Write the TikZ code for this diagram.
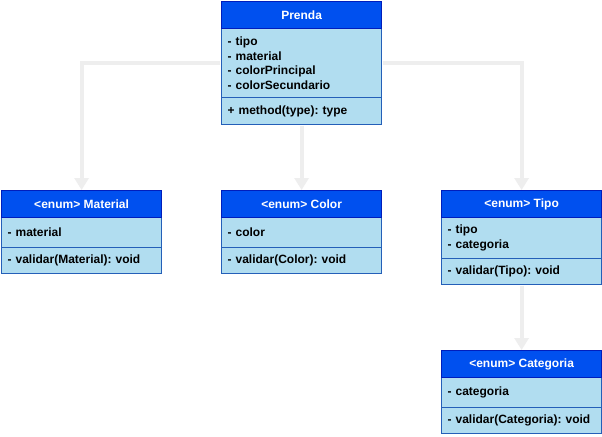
\documentclass[tikz,border=0pt]{standalone}
\usepackage{fontspec}
\setmainfont{Liberation Sans}
\usetikzlibrary{arrows.meta}
\definecolor{hdrfill}{HTML}{0050EF}
\definecolor{hdrline}{HTML}{001DBC}
\definecolor{bodyfill}{HTML}{B1DDF0}
\definecolor{bodyline}{HTML}{245FB8}
\definecolor{connc}{HTML}{EEEEEE}
\frenchspacing
\tikzset{
  hdr/.style={draw=hdrline, fill=hdrfill, text=white, line width=0.9pt,
    font=\fontsize{9}{10.9}\selectfont\bfseries\frenchspacing, minimum width=120pt,
    minimum height=20.25pt, inner sep=0pt, anchor=north west},
  cmp/.style={draw=bodyline, fill=bodyfill, line width=0.9pt,
    font=\fontsize{9}{10.9}\selectfont\bfseries\frenchspacing, text width=111pt,
    inner xsep=4.5pt, inner ysep=0pt, align=left, anchor=north west},
  conn/.style={draw=connc, line width=3pt,
    -{Triangle[length=9pt,width=10.5pt,fill=connc]}},
}
\begin{document}
\begin{tikzpicture}[x=0.75pt,y=-0.75pt]
\fill[white] (0,0) rectangle (602,436);
\useasboundingbox (0,0) rectangle (602,436);
% Prenda
\node[cmp, minimum height=51.75pt] (pa) at (221,28) {- tipo\\- material\\- colorPrincipal\\- colorSecundario};
\node[cmp, minimum height=20.25pt] (pm) at (221,97) {+ method(type): type};
\node[hdr] (prenda) at (221,1) {Prenda};
% Material
\node[cmp, minimum height=22.5pt] (ma) at (1,217) {- material};
\node[cmp, minimum height=19.5pt] (mm) at (1,247) {- validar(Material): void};
\node[hdr] (material) at (1,190) {<enum> Material};
% Color
\node[cmp, minimum height=22.5pt] (ca) at (221,217) {- color};
\node[cmp, minimum height=19.5pt] (cm) at (221,247) {- validar(Color): void};
\node[hdr] (color) at (221,190) {<enum> Color};
% Tipo
\node[cmp, minimum height=30.75pt] (ta) at (441,217) {- tipo\\- categoria};
\node[cmp, minimum height=19.5pt] (tm) at (441,258) {- validar(Tipo): void};
\node[hdr] (tipo) at (441,190) {<enum> Tipo};
% Categoria
\node[cmp, minimum height=22.5pt] (ka) at (441,377) {- categoria};
\node[cmp, minimum height=19.5pt] (km) at (441,407) {- validar(Categoria): void};
\node[hdr] (categoria) at (441,350) {<enum> Categoria};
% connectors
\draw[conn] ([xshift=-0.5pt]pa.west) -| (material.north);
\draw[conn] ([xshift=0.5pt]pa.east) -| (tipo.north);
\draw[conn] ([yshift=-0.5pt]pm.south) -- (color.north);
\draw[conn] ([yshift=-0.5pt]tm.south) -- (categoria.north);
\end{tikzpicture}
\end{document}
